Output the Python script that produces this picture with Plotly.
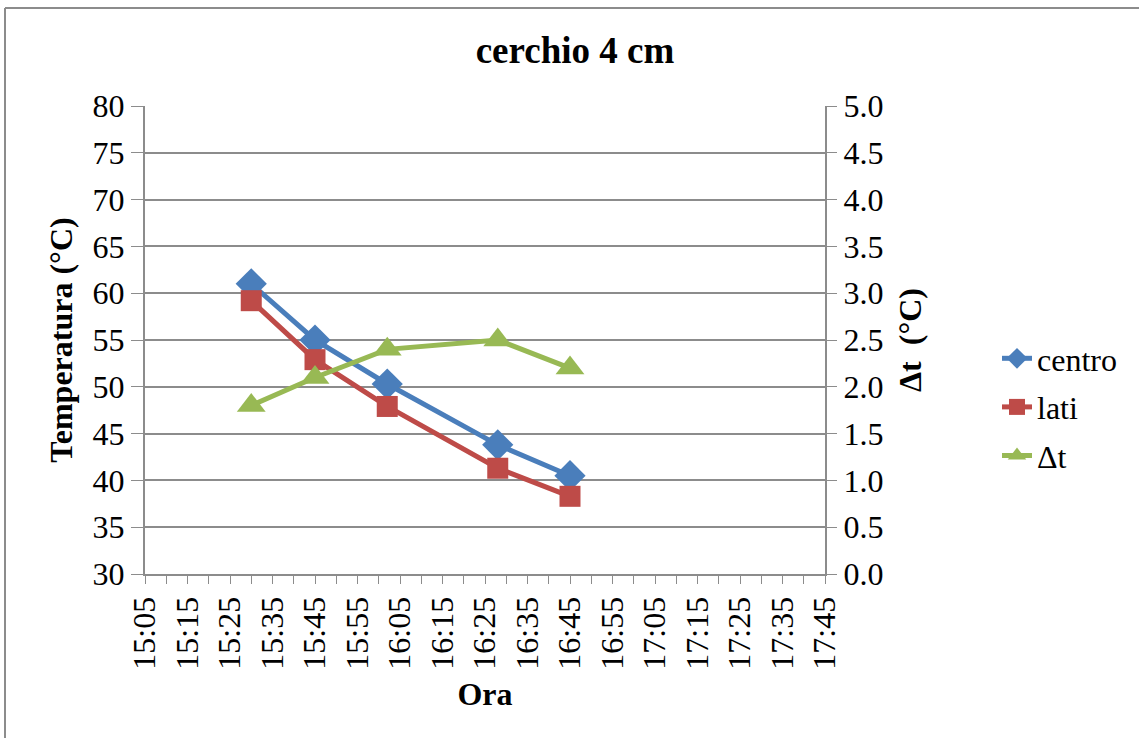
import plotly.graph_objects as go

ore = ["15:30", "15:45", "16:02", "16:28", "16:45"]
centro = [61.0, 55.0, 50.3, 43.8, 40.5]
lati = [59.2, 52.9, 47.9, 41.3, 38.3]
delta_t = [1.8, 2.1, 2.4, 2.5, 2.2]

day = "2000-01-01 "
x = [day + t + ":00" for t in ore]

FONT = "Times New Roman, Liberation Serif, serif"
GRID = "#8c8c8c"
FS = 32
tf = dict(family=FONT, size=FS, color="black")

fig = go.Figure()
fig.add_trace(go.Scatter(x=x, y=centro, name="centro", mode="lines+markers", legendgroup="a",
                         line=dict(color="#4A7EBB", width=5),
                         marker=dict(symbol="diamond", size=24, color="#4A7EBB")))
fig.add_trace(go.Scatter(x=x, y=lati, name="lati", mode="lines+markers", legendgroup="b",
                         line=dict(color="#BE4B48", width=5),
                         marker=dict(symbol="square", size=21, color="#BE4B48")))
fig.add_trace(go.Scatter(x=x, y=delta_t, name="Δt", mode="lines+markers", yaxis="y2", legendgroup="c",
                         line=dict(color="#98B954", width=5),
                         marker=dict(symbol="triangle-up", size=25, color="#98B954")))

fig.update_layout(
    width=1139, height=738,
    margin=dict(l=145, r=314, t=106, b=164),
    paper_bgcolor="white", plot_bgcolor="white",
    font=tf,
    title=dict(text="<b>cerchio 4 cm</b>", x=575 / 1139, xanchor="center",
               y=1 - 50 / 738, yanchor="middle", font=dict(size=37, family=FONT, color="black")),
    xaxis=dict(
        type="date",
        range=[day + "15:05:00", day + "17:45:00"],
        tick0=day + "15:05:00", dtick=600000, tickformat="%H:%M",
        tickangle=-90, ticks="outside", ticklen=8, tickcolor=GRID,
        minor=dict(dtick=300000, tick0=day + "15:05:00", ticks="outside", ticklen=8, tickcolor=GRID, showgrid=False),
        showline=True, linecolor=GRID, linewidth=2, showgrid=False, zeroline=False,
        title=dict(text="<b>Ora</b>", font=tf, standoff=14),
        tickfont=tf,
    ),
    yaxis=dict(
        range=[30, 80], dtick=5, ticks="outside", ticklen=12, tickcolor=GRID,
        showline=True, linecolor=GRID, linewidth=2,
        showgrid=True, gridcolor=GRID, gridwidth=2, zeroline=False,
        title=dict(text="<b>Temperatura (°C)</b>", font=tf, standoff=10),
        tickfont=tf,
    ),
    yaxis2=dict(
        range=[0, 5], dtick=0.5, tickformat=".1f", overlaying="y", side="right",
        ticks="outside", ticklen=10, tickcolor=GRID,
        showline=True, linecolor=GRID, linewidth=2, showgrid=False, zeroline=False,
        title=dict(text="<b>Δt  (°C)</b>", font=tf, standoff=16),
        tickfont=tf,
    ),
    legend=dict(x=(997 - 145) / 680, y=(574 - 407) / 468, xanchor="left", yanchor="middle",
                font=tf, bgcolor="rgba(0,0,0,0)", tracegroupgap=4,
                traceorder="grouped"),
    showlegend=True,
)

# outer chart border (top and left edges visible)
fig.add_shape(type="line", xref="paper", yref="paper",
              x0=(5 - 145) / 680, x1=(1150 - 145) / 680,
              y0=(574 - 8) / 468, y1=(574 - 8) / 468,
              line=dict(color=GRID, width=2))
fig.add_shape(type="line", xref="paper", yref="paper",
              x0=(5 - 145) / 680, x1=(5 - 145) / 680,
              y0=(574 - 8) / 468, y1=(574 - 750) / 468,
              line=dict(color=GRID, width=2))

fig.write_html("out.html", config={"displayModeBar": False},
               post_script="document.body.style.margin='0';")
